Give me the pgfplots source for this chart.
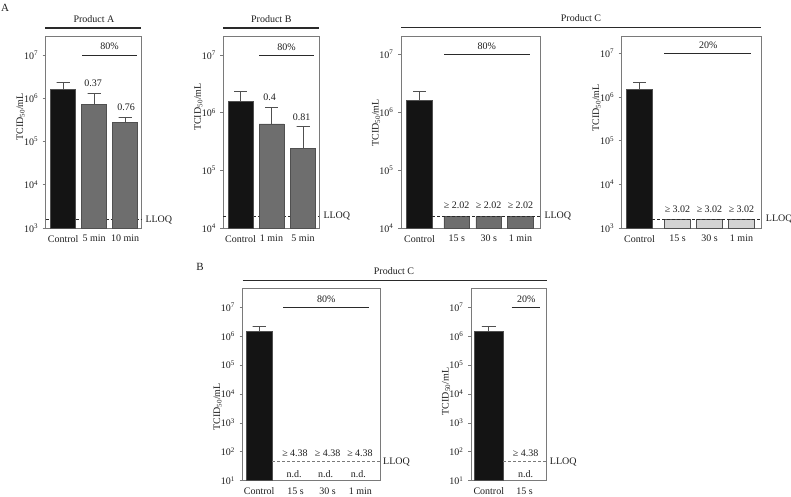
\documentclass[border=0pt]{standalone}
\usepackage{pgfplots}
\pgfplotsset{compat=1.18}
\usepackage{fontspec}
\setmainfont{Liberation Serif}
\definecolor{ctrl}{HTML}{141414}
\definecolor{trt}{HTML}{6E6E6E}
\definecolor{lite}{HTML}{D3D3D3}
\definecolor{edge}{HTML}{505050}
\definecolor{axc}{HTML}{7A7A7A}
\definecolor{txt}{HTML}{1E1E1E}
\definecolor{hdr}{HTML}{2A2A2A}
\newcommand{\fsz}{\fontsize{10}{12}\selectfont}
\tikzset{ann/.style={font=\fsz, text=txt}, hline/.style={draw=hdr, line width=0.9pt}}
\pgfplotsset{
  every axis/.append style={
    scale only axis, anchor=south west,
    height=192pt, xmin=0, enlargelimits=false,
    log origin=infty,
    axis line style={draw=axc, line width=0.7pt},
    tick align=outside, major tick length=3pt,
    ytick pos=left, xtick pos=bottom,
    ytick style={draw=axc, line width=0.6pt},
    xtick style={draw=none},
    yminorticks=false,
    clip=false,
    tick label style={font=\fsz, text=txt},
    xticklabel style={yshift=-0.6pt},
    yticklabel style={xshift=-1pt},
    ylabel={TCID\textsubscript{50}/mL},
    ylabel style={font=\fsz, text=txt},
  },
  bbar/.style={ybar, bar shift=0pt, draw=edge, line width=0.6pt},
  errl/.style={draw=edge, line width=0.8pt, mark=none},
  lloq/.style={draw=hdr, line width=0.7pt, dash pattern=on 3pt off 2pt},
}
\begin{document}
\begin{tikzpicture}[x=1pt,y=1pt]
\useasboundingbox (0,0) rectangle (791,496);
% ---------- A1: Product A
\begin{axis}[ymode=log, at={(45.7pt,268pt)}, width=95.6pt, xmax=95.6,
  ymin=1e3, ymax=2.75e7,
  ytick={1e3,1e4,1e5,1e6,1e7},
  yticklabels={10\textsuperscript{3},10\textsuperscript{4},10\textsuperscript{5},10\textsuperscript{6},10\textsuperscript{7}},
  xtick={17.5,48.5,79.5}, xticklabels={Control,5 min,10 min},
  ylabel style={at={(rel axis cs:0,0.578)}, anchor=center, yshift=25pt}]
\addplot[lloq] coordinates {(0,1.55e3) (95.6,1.55e3)};
\addplot[bbar, bar width=25, fill=ctrl] coordinates {(17.5,1.6e6)};
\addplot[bbar, bar width=25, fill=trt] coordinates {(48.5,7.1e5) (79.5,2.8e5)};
\addplot[errl] coordinates {(17.5,1.6e6) (17.5,2.3e6) (11,2.3e6) (24,2.3e6)};
\addplot[errl] coordinates {(48.5,7.1e5) (48.5,1.29e6) (42,1.29e6) (55,1.29e6)};
\addplot[errl] coordinates {(79.5,2.8e5) (79.5,3.7e5) (73,3.7e5) (86,3.7e5)};
\draw[hline] (axis cs:36.3,1e7) -- (axis cs:91.3,1e7);
\node[ann, anchor=base, yshift=5pt] at (axis cs:63.8,1e7) {80\%};
\node[ann, anchor=base, yshift=6.6pt] at (axis cs:47.3,1.29e6) {0.37};
\node[ann, anchor=base, yshift=6pt] at (axis cs:80.5,3.7e5) {0.76};
\node[ann, anchor=west, inner sep=0pt, xshift=4pt] at (axis cs:95.6,1.55e3) {LLOQ};
\end{axis}
% ---------- A2: Product B
\begin{axis}[ymode=log, at={(223.3pt,268pt)}, width=96pt, xmax=96,
  ymin=1e4, ymax=2.14e7,
  ytick={1e4,1e5,1e6,1e7},
  yticklabels={10\textsuperscript{4},10\textsuperscript{5},10\textsuperscript{6},10\textsuperscript{7}},
  xtick={17.2,48.2,79.7}, xticklabels={Control,1 min,5 min},
  ylabel style={at={(rel axis cs:0,0.63)}, anchor=center, yshift=25pt}]
\addplot[lloq] coordinates {(0,1.6e4) (96,1.6e4)};
\addplot[bbar, bar width=25, fill=ctrl] coordinates {(17.2,1.59e6)};
\addplot[bbar, bar width=25, fill=trt] coordinates {(48.2,6.4e5) (79.7,2.4e5)};
\addplot[errl] coordinates {(17.2,1.59e6) (17.2,2.3e6) (10.7,2.3e6) (23.7,2.3e6)};
\addplot[errl] coordinates {(48.2,6.4e5) (48.2,1.25e6) (41.7,1.25e6) (54.7,1.25e6)};
\addplot[errl] coordinates {(79.7,2.4e5) (79.7,5.9e5) (73.2,5.9e5) (86.2,5.9e5)};
\draw[hline] (axis cs:35.7,1e7) -- (axis cs:90.7,1e7);
\node[ann, anchor=base, yshift=5pt] at (axis cs:63.2,1e7) {80\%};
\node[ann, anchor=base, yshift=6.6pt] at (axis cs:46.4,1.25e6) {0.4};
\node[ann, anchor=base, yshift=5.6pt] at (axis cs:78.4,5.9e5) {0.81};
\node[ann, anchor=west, inner sep=0pt, xshift=4pt] at (axis cs:96,1.6e4) {LLOQ};
\end{axis}
% ---------- A3: Product C 80%
\begin{axis}[ymode=log, at={(401pt,268pt)}, width=139.3pt, xmax=139.3,
  ymin=1e4, ymax=2.09e7,
  ytick={1e4,1e5,1e6,1e7},
  yticklabels={10\textsuperscript{4},10\textsuperscript{5},10\textsuperscript{6},10\textsuperscript{7}},
  xtick={18.5,55.7,87.7,119.5}, xticklabels={Control,15 s,30 s,1 min},
  ylabel style={at={(rel axis cs:0,0.547)}, anchor=center, yshift=25pt}]
\addplot[bbar, bar width=25.6, fill=ctrl] coordinates {(18.5,1.6e6)};
\addplot[errl] coordinates {(18.5,1.6e6) (18.5,2.3e6) (12,2.3e6) (25,2.3e6)};
\addplot[bbar, bar width=25.5, fill=trt] coordinates {(55.7,1.58e4) (87.7,1.58e4) (119.5,1.58e4)};
\addplot[lloq] coordinates {(31.3,1.6e4) (139.3,1.6e4)};
\draw[hline] (axis cs:43,1e7) -- (axis cs:129,1e7);
\node[ann, anchor=base, yshift=5pt] at (axis cs:85.7,1e7) {80\%};
\node[ann, anchor=base, yshift=8.5pt] at (axis cs:55.7,1.58e4) {≥ 2.02};
\node[ann, anchor=base, yshift=8.5pt] at (axis cs:87.7,1.58e4) {≥ 2.02};
\node[ann, anchor=base, yshift=8.5pt] at (axis cs:119.5,1.58e4) {≥ 2.02};
\node[ann, anchor=west, inner sep=0pt, xshift=4pt] at (axis cs:139.3,1.6e4) {LLOQ};
\end{axis}
% ---------- A4: Product C 20%
\begin{axis}[ymode=log, at={(621.7pt,268pt)}, width=140pt, xmax=140,
  ymin=1e3, ymax=2.5e7,
  ytick={1e3,1e4,1e5,1e6,1e7},
  yticklabels={10\textsuperscript{3},10\textsuperscript{4},10\textsuperscript{5},10\textsuperscript{6},10\textsuperscript{7}},
  xtick={17.8,55.8,87.8,119.8}, xticklabels={Control,15 s,30 s,1 min},
  ylabel style={at={(rel axis cs:0,0.625)}, anchor=center, yshift=25pt}]
\addplot[bbar, bar width=25.6, fill=ctrl] coordinates {(17.8,1.5e6)};
\addplot[errl] coordinates {(17.8,1.5e6) (17.8,2.2e6) (11.3,2.2e6) (24.3,2.2e6)};
\addplot[bbar, bar width=26.4, fill=lite] coordinates {(55.8,1.56e3) (87.8,1.56e3) (119.8,1.56e3)};
\addplot[lloq] coordinates {(30.6,1.6e3) (140,1.6e3)};
\draw[hline] (axis cs:42.3,1e7) -- (axis cs:129,1e7);
\node[ann, anchor=base, yshift=5pt] at (axis cs:86.6,1e7) {20\%};
\node[ann, anchor=base, yshift=7pt] at (axis cs:55.8,1.56e3) {≥ 3.02};
\node[ann, anchor=base, yshift=7pt] at (axis cs:87.8,1.56e3) {≥ 3.02};
\node[ann, anchor=base, yshift=7pt] at (axis cs:119.8,1.56e3) {≥ 3.02};
\node[ann, anchor=west, inner sep=0pt, xshift=4pt] at (axis cs:140,1.6e3) {LLOQ};
\end{axis}
% ---------- B1: Product C 80%
\begin{axis}[ymode=log, at={(242.5pt,15.3pt)}, width=137.5pt, xmax=137.5,
  ymin=1e1, ymax=4.3e7,
  ytick={1e1,1e2,1e3,1e4,1e5,1e6,1e7},
  yticklabels={10\textsuperscript{1},10\textsuperscript{2},10\textsuperscript{3},10\textsuperscript{4},10\textsuperscript{5},10\textsuperscript{6},10\textsuperscript{7}},
  xtick={16.7,53,85,117.8}, xticklabels={Control,15 s,30 s,1 min},
  ylabel style={at={(rel axis cs:0,0.384)}, anchor=center, yshift=25pt}]
\addplot[bbar, bar width=26.3, fill=ctrl] coordinates {(16.7,1.5e6)};
\addplot[errl] coordinates {(16.7,1.5e6) (16.7,2.1e6) (10.2,2.1e6) (23.2,2.1e6)};
\addplot[lloq, draw=axc] coordinates {(29.8,45) (137.5,45)};
\draw[hline] (axis cs:40.8,1e7) -- (axis cs:126.8,1e7);
\node[ann, anchor=base, yshift=5pt] at (axis cs:83.8,1e7) {80\%};
\node[ann] at (axis cs:52.5,89) {≥ 4.38};
\node[ann] at (axis cs:85.2,89) {≥ 4.38};
\node[ann] at (axis cs:117.5,89) {≥ 4.38};
\node[ann] at (axis cs:51.5,17) {n.d.};
\node[ann] at (axis cs:83.2,17) {n.d.};
\node[ann] at (axis cs:115.8,17) {n.d.};
\node[ann, anchor=west, inner sep=0pt, xshift=3pt] at (axis cs:137.5,45) {LLOQ};
\end{axis}
% ---------- B2: Product C 20%
\begin{axis}[ymode=log, at={(471pt,15.3pt)}, width=75.7pt, xmax=75.7,
  ymin=1e1, ymax=4.3e7,
  ytick={1e1,1e2,1e3,1e4,1e5,1e6,1e7},
  yticklabels={10\textsuperscript{1},10\textsuperscript{2},10\textsuperscript{3},10\textsuperscript{4},10\textsuperscript{5},10\textsuperscript{6},10\textsuperscript{7}},
  xtick={17.8,53.5}, xticklabels={Control,15 s},
  ylabel style={at={(rel axis cs:0,0.465)}, anchor=center, yshift=25pt}]
\addplot[bbar, bar width=28.5, fill=ctrl] coordinates {(17.8,1.5e6)};
\addplot[errl] coordinates {(17.8,1.5e6) (17.8,2.1e6) (10.8,2.1e6) (24.8,2.1e6)};
\addplot[lloq, draw=axc] coordinates {(32,45) (75.7,45)};
\draw[hline] (axis cs:40.7,1e7) -- (axis cs:69,1e7);
\node[ann, anchor=base, yshift=5pt] at (axis cs:55.3,1e7) {20\%};
\node[ann] at (axis cs:54.7,89) {≥ 4.38};
\node[ann] at (axis cs:54.7,17) {n.d.};
\node[ann, anchor=west, inner sep=0pt, xshift=3pt] at (axis cs:75.7,45) {LLOQ};
\end{axis}
% ---------- headers
\node[font=\fontsize{11}{13}\selectfont, text=txt] at (5,488) {A};
\node[ann] at (94,477) {Product A};
\draw[hdr, line width=1.3pt] (45.3,468) -- (141.3,468);
\node[ann] at (271.3,477) {Product B};
\draw[hdr, line width=1.3pt] (223.3,468) -- (319.3,468);
\node[ann] at (581,478) {Product C};
\draw[hdr, line width=1.3pt] (401,468.5) -- (760.7,468.5);
\node[font=\fontsize{11}{13}\selectfont, text=txt] at (200,229) {B};
\node[ann] at (394,225) {Product C};
\draw[hdr, line width=1.3pt] (242.5,215.3) -- (546.7,215.3);
\end{tikzpicture}
\end{document}
